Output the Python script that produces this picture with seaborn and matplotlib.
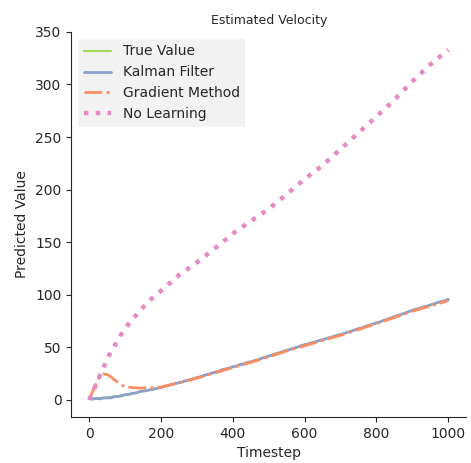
import numpy as np
import pandas as pd
import matplotlib
matplotlib.use("Agg")
import matplotlib.pyplot as plt
import seaborn as sns

# ---- data ----
t_true = [0, 50, 100, 150, 200, 250, 300, 350, 400, 450, 500, 550, 600, 650,
          700, 750, 800, 850, 900, 950, 1000]
v_true = [1.0, 2.0, 4.5, 8.0, 11.5, 16.0, 21.0, 26.0, 31.0, 36.0, 41.5, 47.0,
          52.0, 57.0, 62.0, 67.5, 73.0, 79.0, 85.0, 90.0, 95.0]

t_kalman = list(range(0, 1001, 10))
v_kalman = [1.0, 0.5, 1.2, 0.8, 1.5, 1.8, 1.6, 2.8, 3.0, 3.6,
            4.8, 5.0, 5.9, 6.4, 7.6, 8.2, 8.6, 9.5, 10.0, 10.9,
            11.6, 12.8, 13.4, 14.6, 15.2, 16.3, 17.0, 18.2, 18.8, 20.0,
            21.1, 21.8, 23.1, 24.0, 25.0, 26.2, 27.0, 28.6, 29.2, 30.1,
            31.3, 32.0, 33.4, 34.0, 35.3, 36.1, 37.2, 38.0, 39.4, 40.3,
            41.6, 42.4, 43.8, 44.6, 45.9, 47.0, 47.8, 49.1, 50.0, 51.4,
            52.3, 53.1, 54.2, 55.0, 56.3, 57.1, 58.0, 59.3, 60.0, 61.2,
            62.1, 63.0, 64.3, 65.2, 66.5, 67.6, 68.4, 69.9, 70.8, 72.0,
            73.1, 74.0, 75.5, 76.4, 77.8, 79.0, 80.1, 81.3, 82.4, 83.8,
            85.1, 86.0, 87.0, 88.1, 89.0, 90.2, 91.3, 92.4, 93.5, 94.2,
            95.5]

t_grad = [0, 10, 20, 30, 40, 50, 60, 70, 80, 90, 100, 120, 140, 160, 180, 200,
          250, 300, 350, 400, 450, 500, 550, 600, 650, 700, 750, 800, 850, 900,
          950, 1000]
v_grad = [0.0, 8.0, 16.0, 22.0, 24.5, 24.0, 22.0, 19.0, 16.5, 14.0, 12.5, 11.5,
          11.0, 11.2, 11.6, 12.0, 16.0, 20.5, 25.5, 30.5, 35.5, 40.8, 46.3, 51.3,
          56.3, 61.3, 66.8, 72.3, 78.2, 84.2, 89.2, 94.2]

t_nolearn = [0, 10, 20, 30, 40, 50, 60, 70, 80, 90, 100, 120, 140, 160, 180, 200,
             250, 300, 350, 400, 450, 500, 550, 600, 650, 700, 750, 800, 850, 900,
             950, 1000]
v_nolearn = [0.0, 7.0, 15.0, 23.0, 30.5, 38.0, 45.0, 50.5, 57.0, 62.5, 68.0, 76.0,
             84.0, 91.5, 98.0, 103.5, 118.5, 130.5, 144.0, 158.0, 170.0, 181.5,
             195.5, 210.0, 223.0, 238.5, 254.0, 269.5, 285.5, 303.0, 319.0, 333.0]

labels = ["True Value", "Kalman Filter", "Gradient Method", "No Learning"]

# ---- style ----
sns.set_style("ticks")
plt.rcParams["font.family"] = ["DejaVu Sans"]
plt.rcParams["font.size"] = 10

pal = sns.color_palette("Set2")
c_true = pal[4]
c_kal = pal[2]
c_grad = pal[1]
c_nl = pal[3]

fig = plt.figure(figsize=(4.71, 4.63), dpi=100)
ax = fig.add_axes([0.151, 0.099, 0.839, 0.832])

sns.lineplot(x=t_true, y=v_true, ax=ax, color=c_true, linewidth=1.5, label=labels[0])
sns.lineplot(x=t_kalman, y=v_kalman, ax=ax, color=c_kal, linewidth=2.0, label=labels[1])
sns.lineplot(x=t_grad, y=v_grad, ax=ax, color=c_grad, linewidth=2.0,
             linestyle="-.", label=labels[2])
sns.lineplot(x=t_nolearn, y=v_nolearn, ax=ax, color=c_nl, linewidth=3.2,
             linestyle=":", label=labels[3])

ax.set_title("Estimated Velocity", fontsize=9)
ax.set_xlabel("Timestep", fontsize=10)
ax.set_ylabel("Predicted Value", fontsize=10)
ax.set_xticks([0, 200, 400, 600, 800, 1000])
ax.set_yticks([0, 50, 100, 150, 200, 250, 300, 350])
ax.tick_params(labelsize=10)
sns.despine(ax=ax)

leg = ax.legend(loc="upper left", fontsize=10, frameon=True, facecolor="#f2f2f2",
                edgecolor="none", framealpha=1.0, fancybox=False)

fig.savefig("out.png", dpi=100)
